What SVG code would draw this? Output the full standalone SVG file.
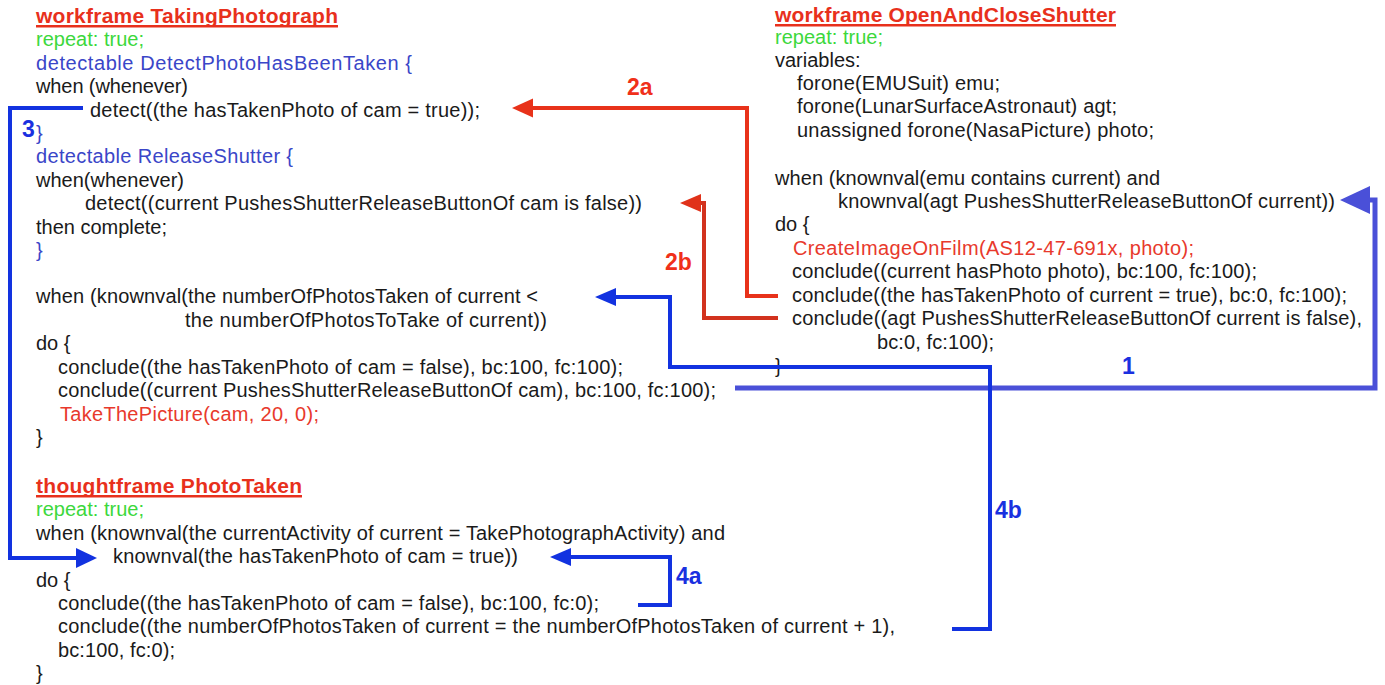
<svg xmlns="http://www.w3.org/2000/svg" width="1385" height="685" viewBox="0 0 1385 685">
<style>
text{font-family:"Liberation Sans",Arial,sans-serif;font-size:20px;fill:#1a1a1a}
.t{font-weight:bold;font-size:21px;fill:#e8301c}
.g{fill:#3cd83c}
.b{fill:#3a46c8}
.r{fill:#e8392c}
.lb{font-weight:bold;font-size:23px;fill:#1a30e0}
.lr{font-weight:bold;font-size:23px;fill:#f0301a}
.ul{fill:#e8301c}
.cr{fill:none;stroke:#e8321a;stroke-width:4}
.cr2{fill:none;stroke:#d2321e;stroke-width:4}
.cb{fill:none;stroke:#1232e0;stroke-width:4}
.c1{fill:none;stroke:#4a50d8;stroke-width:5}
</style>
<rect width="1385" height="685" fill="#fff"/>
<g id="TakingPhotograph">
<text class="t" x="36" y="23" textLength="302">workframe TakingPhotograph</text>
<rect class="ul" x="36" y="25" width="302" height="2.5"/>
<text class="g" x="36" y="46" textLength="108">repeat: true;</text>
<text class="b" x="36" y="70" textLength="376">detectable DetectPhotoHasBeenTaken {</text>
<text x="36" y="93" textLength="152">when (whenever)</text>
<text x="90" y="117" textLength="390">detect((the hasTakenPhoto of cam = true));</text>
<text class="b" x="36" y="140">}</text>
<text class="b" x="36" y="163" textLength="257">detectable ReleaseShutter {</text>
<text x="36" y="187" textLength="148">when(whenever)</text>
<text x="85" y="210" textLength="557">detect((current PushesShutterReleaseButtonOf cam is false))</text>
<text x="36" y="234" textLength="131">then complete;</text>
<text class="b" x="36" y="257">}</text>
<text x="36" y="303" textLength="502">when (knownval(the numberOfPhotosTaken of current &lt;</text>
<text x="185" y="327" textLength="362">the numberOfPhotosToTake of current))</text>
<text x="36" y="350">do {</text>
<text x="58" y="374" textLength="565">conclude((the hasTakenPhoto of cam = false), bc:100, fc:100);</text>
<text x="58" y="397" textLength="658">conclude((current PushesShutterReleaseButtonOf cam), bc:100, fc:100);</text>
<text class="r" x="60" y="421" textLength="259">TakeThePicture(cam, 20, 0);</text>
<text x="36" y="444">}</text>
</g>
<g id="PhotoTaken">
<text class="t" x="36" y="493" textLength="266">thoughtframe PhotoTaken</text>
<rect class="ul" x="36" y="495" width="266" height="2.5"/>
<text class="g" x="36" y="516" textLength="108">repeat: true;</text>
<text x="36" y="540" textLength="689">when (knownval(the currentActivity of current = TakePhotographActivity) and</text>
<text x="113" y="563" textLength="405">knownval(the hasTakenPhoto of cam = true))</text>
<text x="36" y="587">do {</text>
<text x="58" y="610" textLength="541">conclude((the hasTakenPhoto of cam = false), bc:100, fc:0);</text>
<text x="58" y="633" textLength="837">conclude((the numberOfPhotosTaken of current = the numberOfPhotosTaken of current + 1),</text>
<text x="58" y="657" textLength="117">bc:100, fc:0);</text>
<text x="36" y="680">}</text>
</g>
<g id="OpenAndCloseShutter">
<text class="t" x="775" y="22" textLength="341">workframe OpenAndCloseShutter</text>
<rect class="ul" x="775" y="24" width="341" height="2.5"/>
<text class="g" x="775" y="44" textLength="108">repeat: true;</text>
<text x="775" y="67">variables:</text>
<text x="797" y="90" textLength="203">forone(EMUSuit) emu;</text>
<text x="797" y="113" textLength="320">forone(LunarSurfaceAstronaut) agt;</text>
<text x="797" y="137" textLength="357">unassigned forone(NasaPicture) photo;</text>
<text x="775" y="185" textLength="385">when (knownval(emu contains current) and</text>
<text x="838" y="208" textLength="497">knownval(agt PushesShutterReleaseButtonOf current))</text>
<text x="775" y="231">do {</text>
<text class="r" x="793" y="255" textLength="401">CreateImageOnFilm(AS12-47-691x, photo);</text>
<text x="792" y="278" textLength="465">conclude((current hasPhoto photo), bc:100, fc:100);</text>
<text x="792" y="302" textLength="555">conclude((the hasTakenPhoto of current = true), bc:0, fc:100);</text>
<text x="792" y="325" textLength="570">conclude((agt PushesShutterReleaseButtonOf current is false),</text>
<text x="877" y="349" textLength="117">bc:0, fc:100);</text>
<text x="775" y="373">}</text>
</g>
<g id="connectors">
<path class="c1" d="M735,388 H1375 V200 H1362"/>
<polygon fill="#4a50d8" points="1340,200 1370,186 1370,214"/>
<text class="lb" x="1122" y="374" fill="#2438e0">1</text>
<path class="cr" d="M778,296 H747 V108 H528"/>
<polygon fill="#e8321a" points="512,108 533,98.5 533,117.5"/>
<text class="lr" x="627" y="95">2a</text>
<path class="cr2" d="M778,318 H704 V203 H696"/>
<polygon fill="#e0321a" points="680,203 701,194 701,212"/>
<text class="lr" x="665" y="270">2b</text>
<path class="cb" d="M83,108 H10 V558 H80"/>
<polygon fill="#1232e0" points="97,558 76,548 76,568"/>
<text class="lb" x="22" y="137">3</text>
<path class="cb" d="M638,605 H670 V557 H566"/>
<polygon fill="#1232e0" points="550,557 571,548 571,566"/>
<text class="lb" x="676" y="584">4a</text>
<path class="cb" d="M952,629 H990 V367 H670 V297 H612"/>
<polygon fill="#1232e0" points="595,297 616,288 616,306"/>
<text class="lb" x="995" y="518">4b</text>
</g>
</svg>
